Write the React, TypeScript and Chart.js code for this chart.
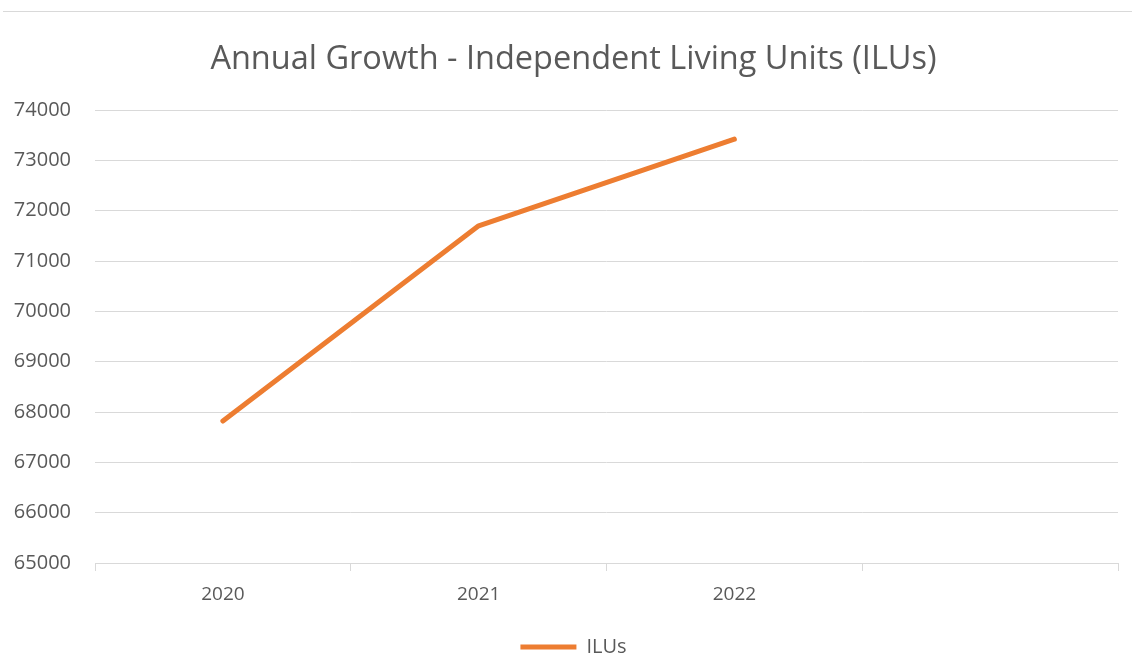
import React, { useEffect, useRef } from "react";
import { Chart, registerables } from "chart.js";

Chart.register(...registerables);

const categories: string[] = ["2020", "2021", "2022", ""];
const iluValues: (number | null)[] = [67820, 71700, 73420, null];
const seriesName = "ILUs";
const chartTitle = "Annual Growth - Independent Living Units (ILUs)";
const yMin = 65000;
const yMax = 74000;
const yStep = 1000;

const TEXT = "#595959";
const GRID = "#d9d9d9";
const ORANGE = "#ED7D31";
const FONT = "'Open Sans', 'Liberation Sans', sans-serif";

export default function App() {
  const ref = useRef<HTMLCanvasElement | null>(null);

  useEffect(() => {
    if (!ref.current) return;
    const chart = new Chart(ref.current, {
      type: "line",
      data: {
        labels: categories,
        datasets: [
          {
            label: seriesName,
            data: iluValues,
            borderColor: ORANGE,
            backgroundColor: ORANGE,
            borderWidth: 5,
            borderCapStyle: "round",
            borderJoinStyle: "round",
            pointRadius: 0,
            pointHoverRadius: 0,
            tension: 0,
            pointStyle: "line",
            yAxisID: "y",
          },
        ],
      },
      options: {
        animation: false,
        responsive: true,
        maintainAspectRatio: false,
        layout: { padding: { left: 0, right: -15, top: 0, bottom: -9 } },
        plugins: {
          tooltip: { enabled: false },
          title: {
            display: true,
            text: chartTitle,
            color: TEXT,
            font: { family: FONT, size: 32.5, weight: "normal" },
            padding: { top: 40.2, bottom: 30.8 },
          },
          legend: {
            display: true,
            position: "bottom",
            labels: {
              usePointStyle: true,
              pointStyleWidth: 56,
              boxHeight: 5,
              color: TEXT,
              font: { family: FONT, size: 20 },
              padding: 4,
            },
          },
        },
        scales: {
          x: {
            type: "category",
            offset: true,
            grid: {
              display: true,
              drawOnChartArea: false,
              drawTicks: true,
              tickLength: 8,
              color: GRID,
              offset: true,
            },
            border: { display: true, color: GRID, width: 1 },
            ticks: {
              color: TEXT,
              font: { family: FONT, size: 19 },
              padding: 12,
              maxRotation: 0,
              autoSkip: false,
            },
            afterFit: (s: any) => {
              s.height = 70;
            },
          },
          y: {
            min: yMin,
            max: yMax,
            position: "left",
            grid: { color: GRID, drawTicks: false, lineWidth: 1 },
            border: { display: false },
            ticks: {
              stepSize: yStep,
              color: TEXT,
              font: { family: FONT, size: 20 },
              padding: 24,
              callback: (v: any) => String(v),
            },
            afterFit: (s: any) => {
              s.width = 95;
            },
          },
          spacer: {
            type: "linear",
            position: "right",
            display: true,
            grid: { display: false, drawOnChartArea: false, drawTicks: false },
            border: { display: false },
            ticks: { display: false },
            afterFit: (s: any) => {
              s.width = 29;
            },
          },
        },
      },
    });
    return () => chart.destroy();
  }, []);

  return (
    <div
      style={{
        position: "fixed",
        left: 0,
        top: 0,
        width: 1132,
        height: 658,
        background: "#fff",
      }}
    >
      <div
        style={{
          position: "absolute",
          left: 3,
          right: 0,
          top: 11,
          height: 0,
          borderTop: "1px solid #d9d9d9",
        }}
      />
      <canvas ref={ref} />
    </div>
  );
}
